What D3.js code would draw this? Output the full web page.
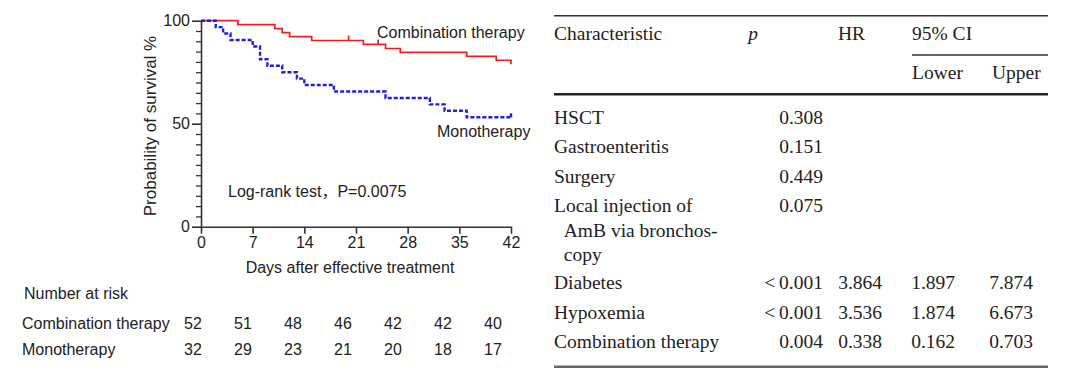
<!DOCTYPE html>
<html>
<head>
<meta charset="utf-8">
<script src="https://cdn.jsdelivr.net/npm/d3@7"></script>
<style>
  body { margin: 0; background: #fff; }
  svg { display: block; }
</style>
</head>
<body>
<div id="chart"></div>
<script>

// ---------- data: survival curves ----------
const comboDays = [0, 5, 10, 11, 12, 15, 22, 25, 27, 36, 40, 42];
const comboSurv = [100, 98.1, 96.2, 94.2, 92.3, 90.4, 88.5, 86.5, 84.6, 82.7, 80.8, 78.8];
const comboCensorDays = [20, 24];
const comboCensorSurv = [90.4, 88.5];

const monoDays = [0, 2, 3, 4, 7, 8, 9, 11, 13, 14, 18, 25, 31, 33, 36, 42];
const monoSurv = [100, 96.9, 93.8, 90.6, 87.5, 81.3, 78.1, 75, 71.9, 68.8, 65.6, 62.5, 59.4, 56.3, 53.1, 53.1];

const dayTicks = [0, 7, 14, 21, 28, 35, 42];
const survTicks = [0, 50, 100];

// number at risk
const riskGroups = ["Combination therapy", "Monotherapy"];
const riskCombo = [52, 51, 48, 46, 42, 42, 40];
const riskMono = [32, 29, 23, 21, 20, 18, 17];

// ---------- data: cox table ----------
const characteristics = [
  ["HSCT"],
  ["Gastroenteritis"],
  ["Surgery"],
  ["Local injection of", "\u00a0\u00a0AmB via bronchos-", "\u00a0\u00a0copy"],
  ["Diabetes"],
  ["Hypoxemia"],
  ["Combination therapy"]
];
const pValues = ["0.308", "0.151", "0.449", "0.075", "<\u20090.001", "<\u20090.001", "0.004"];
const hrValues = ["", "", "", "", "3.864", "3.536", "0.338"];
const ciLower = ["", "", "", "", "1.897", "1.874", "0.162"];
const ciUpper = ["", "", "", "", "7.874", "6.673", "0.703"];

const W = 1080, H = 377;
const sans = "'Liberation Sans', Arial, 'Noto Sans CJK SC', sans-serif";
const serif = "'Liberation Serif', 'Times New Roman', serif";
const ink = "#222";

const svg = d3.select("#chart").append("svg")
    .attr("width", W).attr("height", H);

svg.append("rect").attr("width", W).attr("height", H).attr("fill", "#fff");

//////////////////////////////////////////////////////
// KAPLAN-MEIER
//////////////////////////////////////////////////////

const x = d3.scaleLinear().domain([0, 42]).range([201, 511]);
const y = d3.scaleLinear().domain([0, 100]).range([226.7, 20.7]);

// minor ticks
svg.append("g")
    .attr("transform", "translate(201,0)")
    .call(d3.axisLeft(y).tickValues(d3.range(5, 100, 5).filter(v => v !== 50)).tickSize(5).tickFormat(""))
    .call(g => g.select(".domain").remove())
    .call(g => g.selectAll("line").attr("stroke", "#333").attr("stroke-width", 1.3));

const yAxis = svg.append("g")
    .attr("transform", "translate(201,0)")
    .call(d3.axisLeft(y).tickValues(survTicks).tickSize(9).tickSizeOuter(0).tickPadding(2));

const xAxis = svg.append("g")
    .attr("transform", "translate(0,226.7)")
    .call(d3.axisBottom(x).tickValues(dayTicks).tickSize(7).tickSizeOuter(0).tickPadding(3));

[yAxis, xAxis].forEach(g => {
    g.select(".domain").attr("stroke", "#333").attr("stroke-width", 1.6);
    g.selectAll(".tick line").attr("stroke", "#333").attr("stroke-width", 1.6);
    g.selectAll("text").attr("fill", ink).style("font-family", sans).style("font-size", "16px");
});

const line = d3.line()
    .x(d => x(d[0]))
    .y(d => y(d[1]))
    .curve(d3.curveStepAfter);

svg.append("path")
    .datum(comboDays.map((d, i) => [d, comboSurv[i]]))
    .attr("d", line)
    .attr("fill", "none")
    .attr("stroke", "#f21d1d")
    .attr("stroke-width", 1.7);

svg.selectAll(".censor")
    .data(comboCensorDays.map((d, i) => [d, comboCensorSurv[i]]))
    .enter().append("line")
    .attr("x1", d => x(d[0])).attr("x2", d => x(d[0]))
    .attr("y1", d => y(d[1])).attr("y2", d => y(d[1]) - 5)
    .attr("stroke", "#f21d1d").attr("stroke-width", 1.7);

svg.append("path")
    .datum(monoDays.map((d, i) => [d, monoSurv[i]]))
    .attr("d", line)
    .attr("fill", "none")
    .attr("stroke", "#1f1fe0")
    .attr("stroke-width", 2.4)
    .attr("stroke-dasharray", "4,2");

svg.append("line")
    .attr("x1", x(42)).attr("x2", x(42))
    .attr("y1", y(53.1)).attr("y2", y(53.1) - 4)
    .attr("stroke", "#1f1fe0").attr("stroke-width", 2.4);

// labels
const label = (txt, px, py, opts = {}) => svg.append("text")
    .attr("x", px).attr("y", py)
    .attr("dy", "0.35em")
    .attr("text-anchor", opts.anchor || "start")
    .attr("fill", ink)
    .style("font-family", opts.font || sans)
    .style("font-size", (opts.size || 16) + "px")
    .style("font-style", opts.italic ? "italic" : "normal")
    .text(txt);

label("Combination therapy", 377, 32);
label("Monotherapy", 437, 131);
label("Log-rank test\uff0cP=0.0075", 228, 191);
label("Days after effective treatment", 350, 267, { anchor: "middle" });

svg.append("text")
    .attr("transform", "translate(150,126) rotate(-90)")
    .attr("dy", "0.35em")
    .attr("text-anchor", "middle")
    .attr("fill", ink)
    .style("font-family", sans)
    .style("font-size", "17px")
    .text("Probability of survival %");

//////////////////////////////////////////////////////
// NUMBER AT RISK
//////////////////////////////////////////////////////

const xr = d3.scaleLinear().domain([0, 42]).range([193, 493]);
const riskY = d3.scalePoint().domain(riskGroups).range([323.5, 349]);

label("Number at risk", 24, 293.5);

[riskCombo, riskMono].forEach((vals, gi) => {
    const g = riskGroups[gi];
    label(g, 22, riskY(g));
    svg.selectAll(".risk" + gi)
        .data(vals)
        .enter().append("text")
        .attr("x", (d, i) => xr(dayTicks[i]))
        .attr("y", riskY(g))
        .attr("dy", "0.35em")
        .attr("text-anchor", "middle")
        .attr("fill", ink)
        .style("font-family", sans)
        .style("font-size", "16px")
        .text(d => d);
});

//////////////////////////////////////////////////////
// COX TABLE
//////////////////////////////////////////////////////

const tL = 554, tR = 1048;
const colP = 823, colHR = 882, colLo = 955, colUp = 1033;
const tsz = 19.5;

const rule = (x1, x2, yy, w, c) => svg.append("line")
    .attr("x1", x1).attr("x2", x2).attr("y1", yy).attr("y2", yy)
    .attr("stroke", c || "#333").attr("stroke-width", w);

rule(tL, tR, 15.7, 1.6);
rule(912, tR, 55, 1.4);
rule(tL, tR, 94.3, 2.6, "#222");
rule(tL, tR, 366.7, 2.6, "#666");

label("Characteristic", tL, 33, { font: serif, size: tsz });
label("p", 753, 33, { font: serif, size: tsz, italic: true, anchor: "middle" });
label("HR", 838, 33, { font: serif, size: tsz });
label("95% CI", 912, 33, { font: serif, size: tsz });
label("Lower", 912, 72, { font: serif, size: tsz });
label("Upper", 992, 72, { font: serif, size: tsz });

let ry = 117;
characteristics.forEach((lines, i) => {
    lines.forEach((t, j) => label(t, tL, ry + j * 24.5, { font: serif, size: tsz }));
    label(pValues[i], colP, ry, { font: serif, size: tsz, anchor: "end" });
    label(hrValues[i], colHR, ry, { font: serif, size: tsz, anchor: "end" });
    label(ciLower[i], colLo, ry, { font: serif, size: tsz, anchor: "end" });
    label(ciUpper[i], colUp, ry, { font: serif, size: tsz, anchor: "end" });
    ry += (lines.length - 1) * 24.5 + (lines.length > 1 ? 28 : 29.5);
});

</script>
</body>
</html>
